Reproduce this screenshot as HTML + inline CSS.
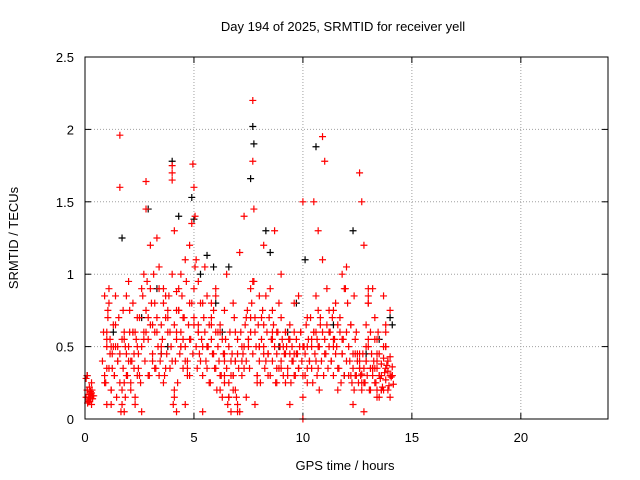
<!DOCTYPE html>
<html><head><meta charset="utf-8"><style>
body{margin:0;background:#fff;}
svg{display:block;font-family:"Liberation Sans",sans-serif;}
</style></head><body>
<svg id="chart" width="640" height="480">
<text x="343" y="31" font-size="13" text-anchor="middle">Day 194 of 2025, SRMTID for receiver yell</text>
<text x="345" y="470" font-size="13" text-anchor="middle">GPS time / hours</text>
<text x="18" y="238" font-size="13" text-anchor="middle" transform="rotate(-90 18 238)">SRMTID / TECUs</text>
<g id="grid"></g><g id="ticks"></g><g id="marks"></g>
<rect x="85" y="57" width="523" height="362" fill="none" stroke="#000" stroke-width="1"/>
</svg>
<script>
const xTicks=[0,5,10,15,20];
const yTicks=[0,0.5,1,1.5,2,2.5];
const yTickLabels=["0","0.5","1","1.5","2","2.5"];
const redX=[0.1,0.15,0.2,0.25,0.3,0.35,0.1,0.2,0.3,0.4,0.15,0.25,0.05,0.9,1.0,1.05,1.1,1.15,1.2,1.25,1.1,1.0,1.2,1.3,1.35,1.4,1.5,1.6,1.6,1.7,1.75,1.8,1.85,1.9,2.0,2.05,2.1,2.2,2.25,2.3,2.4,2.45,1.5,1.7,1.9,2.1,2.3,2.5,2.6,2.7,2.8,2.8,2.9,3.0,3.1,3.2,3.3,3.4,3.5,3.6,3.7,3.8,2.7,2.9,3.1,3.3,3.5,3.7,3.9,4.0,4.0,4.0,4.1,4.1,4.2,4.3,4.4,4.5,4.6,4.7,4.8,4.9,4.95,5.0,5.05,4.2,4.4,4.6,4.8,5.0,4.1,4.3,4.5,4.7,5.1,5.2,5.3,5.4,5.5,5.6,5.7,5.8,5.9,6.0,6.1,6.2,6.3,6.4,5.2,5.4,5.6,5.8,6.0,6.2,6.4,6.5,6.6,6.7,6.8,6.9,7.0,7.1,7.2,6.6,6.8,7.0,6.7,6.9,7.3,7.4,7.5,7.6,7.7,7.7,7.75,7.8,7.9,8.0,7.3,7.5,7.7,7.9,8.1,8.2,8.3,8.4,8.5,8.6,8.7,8.8,8.9,9.0,8.2,8.4,8.6,8.8,9.0,9.1,9.2,9.3,9.4,9.5,9.6,9.7,9.8,9.9,10.0,10.1,10.2,10.3,10.4,9.2,9.4,9.6,9.8,10.0,10.2,10.4,10.5,10.6,10.65,10.7,10.7,10.75,10.8,10.9,11.0,10.5,10.7,10.9,11.1,11.2,11.3,11.4,11.5,11.6,11.7,11.8,11.9,12.0,12.1,11.2,11.4,11.6,11.8,12.0,12.2,12.3,12.35,12.4,12.4,12.5,12.45,12.6,12.7,12.8,12.9,13.0,13.1,13.2,13.3,13.4,13.5,13.6,13.7,13.8,13.9,14.0,14.1,12.6,12.8,13.0,13.2,13.4,13.6,13.8,14.0,12.7,12.9,13.1,13.3,13.5,13.7,13.9,14.1,13.0,13.4,13.8,0.9,1.0,12.3,1.8,4.2,6.4,6.9,8.0,10.0];
const redY=[0.2,0.15,0.12,0.18,0.25,0.14,0.3,0.22,0.1,0.16,0.13,0.19,0.28,0.3,0.55,0.7,0.9,0.45,0.2,0.35,0.8,0.6,0.1,0.5,0.3,0.65,0.4,1.96,1.6,0.2,0.75,0.05,0.5,0.3,0.95,0.6,0.25,0.8,0.45,0.15,0.7,0.35,0.5,0.1,0.85,0.4,0.6,0.3,0.9,0.55,1.64,1.45,0.7,1.2,0.4,0.8,0.6,1.05,0.5,0.9,0.35,0.75,1.0,0.3,0.65,1.25,0.45,0.85,0.6,1.75,1.7,1.65,0.2,1.3,0.05,0.9,0.5,0.7,1.1,0.3,0.8,1.35,1.76,1.6,1.4,0.6,1.0,0.4,1.2,0.9,0.15,0.75,0.55,0.35,1.1,0.6,0.4,0.8,1.05,0.5,0.25,0.7,0.45,0.9,0.6,0.3,0.55,0.75,0.95,0.5,0.35,0.65,0.85,0.2,0.4,1.0,0.15,0.05,0.3,0.6,0.1,1.15,0.5,0.25,0.8,0.05,0.4,0.2,0.35,0.7,0.55,0.9,2.2,1.78,1.45,0.6,0.3,0.85,1.4,0.5,0.95,0.25,0.7,1.2,0.4,0.3,0.9,0.55,1.3,0.6,0.8,0.35,0.65,0.45,0.75,0.25,1.0,0.5,0.6,0.3,0.55,0.4,0.8,0.45,0.35,0.6,0.5,0.3,0.7,0.4,0.55,0.25,0.65,0.45,0.85,1.5,0.5,0.35,0.6,0.4,0.3,0.75,0.5,0.2,0.65,1.95,1.78,1.5,1.3,1.1,0.9,0.6,0.4,0.55,0.8,0.35,0.7,0.45,0.9,0.6,0.3,0.75,0.5,0.2,1.0,0.4,0.65,0.1,0.85,0.55,0.3,0.45,0.6,1.7,1.5,1.2,0.4,0.9,0.6,0.35,0.25,0.45,0.3,0.2,0.5,0.35,0.4,0.15,0.3,0.45,0.25,0.55,0.35,0.4,0.2,0.6,0.3,0.25,0.5,0.35,0.7,0.45,0.2,0.4,0.3,0.8,0.15,0.5,0.25,0.35,0.45,0.55,0.88,0.3,0.4,0.5,0,0,0,0.08,0.1,0.05,0.03,0.07,0.02];
const redX2=[0.05,0.1,0.15,0.2,0.25,0.3,0.35,0.12,0.22,0.32,0.8,0.85,0.9,0.95,1.0,1.05,1.1,1.15,1.2,1.25,1.3,1.35,1.4,1.45,1.5,1.55,1.6,1.65,1.7,1.75,1.8,1.85,1.9,1.95,2.0,2.05,2.1,2.15,2.2,2.25,2.3,2.35,2.4,2.45,2.5,2.55,2.6,2.65,2.7,2.75,2.8,2.85,2.9,2.95,3.0,3.05,3.1,3.15,3.2,3.25,3.3,3.35,3.4,3.45,3.5,3.55,3.6,3.65,3.7,3.75,3.8,3.85,3.9,3.95,4.0,4.05,4.1,4.15,4.2,4.25,4.3,4.35,4.4,4.45,4.5,4.55,4.6,4.65,4.7,4.75,4.8,4.85,4.9,4.95,5.0,5.05,5.1,5.15,5.2,5.25,5.3,5.35,5.4,5.45,5.5,5.55,5.6,5.65,5.7,5.75,5.8,5.85,5.9,5.95,6.0,6.05,6.1,6.15,6.2,6.25,6.3,6.35,6.4,6.45,6.5,6.55,6.6,6.65,6.7,6.75,6.8,6.85,6.9,6.95,7.0,7.05,7.1,7.15,7.2,7.25,7.3,7.35,7.4,7.45,7.5,7.55,7.6,7.65,7.7,7.75,7.8,7.85,7.9,7.95,8.0,8.05,8.1,8.15,8.2,8.25,8.3,8.35,8.4,8.45,8.5,8.55,8.6,8.65,8.7,8.75,8.8,8.85,8.9,8.95,9.0,9.05,9.1,9.15,9.2,9.25,9.3,9.35,9.4,9.45,9.5,9.55,9.6,9.65,9.7,9.75,9.8,9.85,9.9,9.95,10.0,10.05,10.1,10.15,10.2,10.25,10.3,10.35,10.4,10.45,10.5,10.55,10.6,10.65,10.7,10.75,10.8,10.85,10.9,10.95,11.0,11.05,11.1,11.15,11.2,11.25,11.3,11.35,11.4,11.45,11.5,11.55,11.6,11.65,11.7,11.75,11.8,11.85,11.9,11.95,12.0,12.05,12.1,12.15,12.2,12.25,12.3,12.35,12.4,12.45,12.5,12.55,12.6,12.65,12.7,12.75,12.8,12.85,12.9,12.95,13.0,13.05,13.1,13.15,13.2,13.25,13.3,13.35,13.4,13.45,13.5,13.55,13.6,13.65,13.7,13.75,13.8,13.85,13.9,13.95,14.0,14.05,14.1,14.15,12.6,12.7,12.8,12.9,13.0,13.1,13.2,13.3,13.4,13.5,13.6,13.7,13.8,13.9,14.0,1.0,1.4,1.8,2.2,2.6,3.0,3.4,3.8,4.2,4.6,5.0,5.4,5.8,6.2,6.6,7.0,7.4,7.8,8.2,8.6,9.0,9.4,9.8,10.2,10.6,11.0,11.4,11.8,12.2,12.6,13.0,13.4,13.8,1.2,1.6,2.0,2.4,2.8,3.2,3.6,4.0,4.4,4.8,5.2,5.6,6.0,6.4,6.8,7.2,7.6,8.0,8.4,8.8,9.2,9.6,10.0,10.4,10.8,11.2,11.6,12.0,12.4,12.8,13.2,13.6,14.0];
const redY2=[0.15,0.2,0.12,0.17,0.14,0.18,0.16,0.11,0.15,0.2,0.4,0.6,0.85,0.25,0.5,0.75,0.35,0.55,0.2,0.45,0.65,0.3,0.5,0.15,0.4,0.7,0.25,0.05,0.55,0.35,0.6,0.15,0.45,0.3,0.5,0.75,0.2,0.4,0.6,0.35,0.1,0.55,0.3,0.45,0.7,0.25,0.5,0.85,0.6,0.4,0.75,0.95,0.55,0.3,0.65,0.8,0.45,1.0,0.6,0.35,0.7,0.5,0.9,0.4,0.65,0.55,0.8,0.3,0.7,0.45,0.6,0.85,0.35,0.5,1.0,0.1,0.65,0.4,0.55,0.25,0.75,0.45,0.6,0.85,0.35,0.7,0.5,0.95,0.4,0.65,0.3,0.55,0.8,0.45,0.7,1.05,0.5,0.35,0.65,0.45,0.8,0.55,0.3,0.7,0.6,0.4,0.85,0.5,0.65,0.25,0.55,0.45,0.75,0.35,0.6,0.2,0.5,0.4,0.65,0.3,0.15,0.45,0.25,0.55,0.35,0.1,0.5,0.6,0.3,0.45,0.2,0.7,0.4,0.15,0.55,0.35,0.05,0.6,0.3,0.45,0.5,0.65,0.4,0.75,0.55,0.35,0.6,0.8,0.45,0.95,0.7,0.5,0.3,0.65,0.4,0.25,0.55,0.75,0.5,0.35,0.85,0.6,0.45,0.7,0.3,0.55,0.4,0.65,0.5,0.25,0.45,0.6,0.35,0.5,0.4,0.55,0.3,0.45,0.6,0.5,0.35,0.55,0.45,0.25,0.5,0.4,0.6,0.3,0.55,0.45,0.35,0.5,0.6,0.4,0.3,0.5,0.45,0.65,0.35,0.55,0.4,0.7,0.5,0.25,0.6,0.45,0.85,0.55,0.35,0.5,0.7,0.4,0.6,0.3,0.55,0.45,0.65,0.35,0.5,0.6,0.4,0.7,0.3,0.55,0.45,0.5,0.65,0.35,0.6,0.25,0.45,0.55,0.3,0.9,1.05,0.8,0.5,0.4,0.3,0.25,0.35,0.2,0.45,0.3,0.4,0.25,0.35,0.3,0.2,0.45,0.35,0.25,0.4,0.3,0.5,0.2,0.35,0.45,0.3,0.4,0.55,0.25,0.35,0.6,0.3,0.28,0.38,0.22,0.42,0.32,0.27,0.37,0.33,0.23,0.43,0.29,0.36,0.24,0.4,0.31,0.05,0.65,0.8,0.2,0.9,0.35,0.55,0.15,0.3,0.85,0.5,0.2,0.75,0.1,0.85,0.25,0.6,0.05,0.9,0.3,0.7,0.75,0.1,0.65,0.05,0.8,0.6,0.15,0.45,0.15,0.1,0.45,0.6,0.7,0.1,0.35,0.25,0.6,0.45,0.75,0.55,0.65,0.35,0.85,0.2,0.65,0.5,0.45,0.4,0.5,0.6,0.35,0.25,0.4,0.5,0.55,0.6,0.5,0.35,0.45,0.3,0.4,0.7,0.5,0.45,0.35,0.45,0.3,0.15];
const blackX=[0.1,1.3,1.7,2.6,2.9,3.3,3.8,4.0,4.3,4.9,5.0,5.3,5.6,5.9,6.3,6.6,7.6,7.7,7.75,8.3,8.5,9.3,9.7,10.1,10.6,11.4,12.3,12.9,13.5,14.0,14.1,3.5,6.0,8.9,11.9];
const blackY=[0.3,0.6,1.25,0.7,1.45,0.9,0.5,1.78,1.4,1.53,1.38,1.0,1.13,1.05,0.6,1.05,1.66,2.02,1.9,1.3,1.15,0.6,0.8,1.1,1.88,0.65,1.3,0.45,0.55,0.7,0.65,0.45,0.8,0.5,0.3];
const NS="http://www.w3.org/2000/svg";
const X0=85,X1=608,Y0=419,Y1=57,XMAX=24,YMAX=2.5;
function sx(v){return X0+(X1-X0)*v/XMAX;}
function sy(v){return Y0-(Y0-Y1)*v/YMAX;}
const grid=document.getElementById('grid'),ticks=document.getElementById('ticks'),marks=document.getElementById('marks');
function el(tag,attrs,parent){const e=document.createElementNS(NS,tag);for(const k in attrs)e.setAttribute(k,attrs[k]);parent.appendChild(e);return e;}
xTicks.forEach(t=>{
  const x=sx(t);
  if(t>0){const g=el('line',{x1:x,x2:x,y1:Y0,y2:Y1,stroke:'#a0a0a0','stroke-dasharray':'1,2'},grid);
  
  }
  el('line',{x1:x,x2:x,y1:Y0,y2:Y0-6,stroke:'#000'},ticks);
  el('line',{x1:x,x2:x,y1:Y1,y2:Y1+6,stroke:'#000'},ticks);
  const l=el('text',{x:x,y:Y0+23,'font-size':13,'text-anchor':'middle'},ticks);
  l.textContent=t;
  
  
});
yTicks.forEach((t,i)=>{
  const y=sy(t);
  if(t>0&&t<YMAX){const g=el('line',{x1:X0,x2:X1,y1:y,y2:y,stroke:'#a0a0a0','stroke-dasharray':'1,2'},grid);
  
  }
  el('line',{x1:X0,x2:X0+6,y1:y,y2:y,stroke:'#000'},ticks);
  el('line',{x1:X1,x2:X1-6,y1:y,y2:y,stroke:'#000'},ticks);
  const l=el('text',{x:X0-11,y:y+5,'font-size':13,'text-anchor':'end'},ticks);
  l.textContent=yTickLabels[i];
  
  
});
function plus(x,y,color,name){
  const px=sx(x),py=sy(y);
  const p=el('path',{d:`M${px-3.5},${py}H${px+3.5}M${px},${py-3.5}V${py+3.5}`,stroke:color,'stroke-width':1.2,fill:'none'},marks);
  
  
}
blackX.forEach((x,i)=>plus(x,blackY[i],'#000','black-point'));
redX.forEach((x,i)=>plus(x,redY[i],'#ff0000','red-point'));
redX2.forEach((x,i)=>plus(x,redY2[i],'#ff0000','red-point'));
</script>
</body></html>
